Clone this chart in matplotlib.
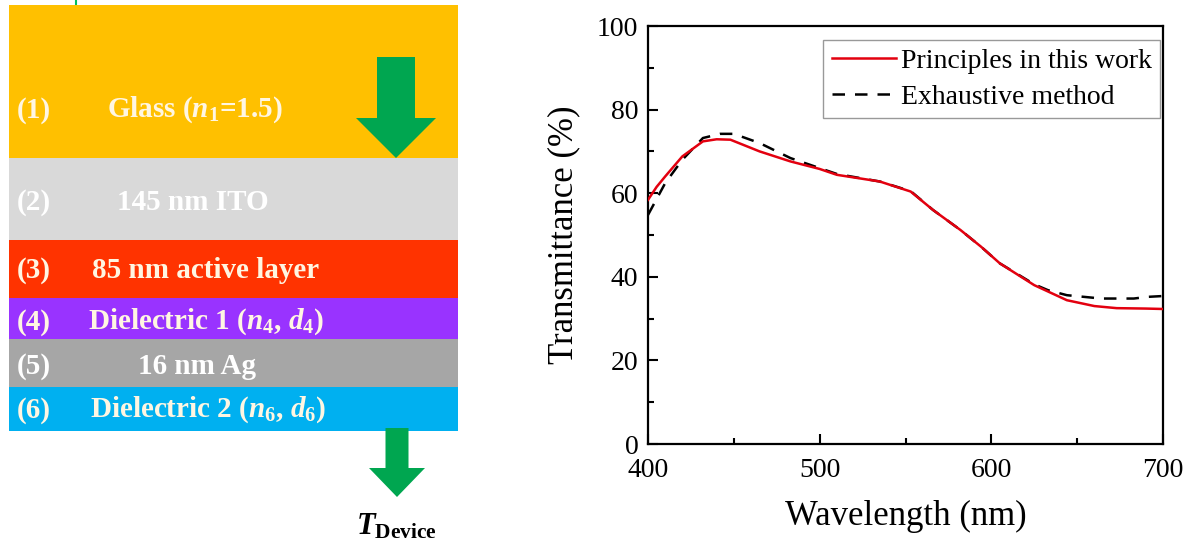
#!/usr/bin/env python3
"""
Device stack sketch (left) + transmittance comparison (right).
"""
import numpy as np
import matplotlib
matplotlib.use('Agg')
import matplotlib.pyplot as plt
from matplotlib.patches import Rectangle, FancyArrow

plt.rcParams['font.family'] = ['Liberation Serif', 'DejaVu Serif']
plt.rcParams['mathtext.fontset'] = 'custom'
plt.rcParams['mathtext.rm'] = 'Liberation Serif:bold'
plt.rcParams['mathtext.it'] = 'Liberation Serif:italic:bold'
plt.rcParams['mathtext.bf'] = 'Liberation Serif:bold'

# --- layer stack (top -> bottom)
layer_ids = ['(1)', '(2)', '(3)', '(4)', '(5)', '(6)']
layer_names = [r'Glass ($n_1$=1.5)', '145 nm ITO', '85 nm active layer',
               r'Dielectric 1 ($n_4$, $d_4$)', '16 nm Ag',
               r'Dielectric 2 ($n_6$, $d_6$)']
layer_colors = ['#FFC000', '#D9D9D9', '#FF3300', '#9933FF', '#A6A6A6', '#00B0F0']
layer_edges = [5, 158, 240, 298, 339, 387, 431]   # pixel rows of boundaries
name_x = [107, 117, 92, 88, 138, 90]
label_y = [110, 202, 270, 322, 366, 410]

# --- transmittance curves
wl_work = [400, 405, 410, 420, 432, 440, 448, 465, 483, 500, 510, 535, 553,
           566, 582, 594, 605, 625, 644, 660, 673, 690, 700]
T_work = [58.4, 61.5, 64.0, 68.8, 72.4, 72.9, 72.8, 70.0, 67.6, 65.8, 64.4,
          62.8, 60.4, 56.0, 51.2, 47.2, 43.2, 38.0, 34.4, 33.0, 32.5, 32.4, 32.3]
wl_exh = [400, 410, 420, 432, 442, 450, 465, 483, 500, 510, 535, 553, 566,
          582, 594, 605, 625, 633, 644, 664, 683, 691, 700]
T_exh = [54.8, 62.4, 68.0, 73.2, 74.2, 74.2, 72.0, 68.4, 66.0, 64.6, 62.8,
         60.5, 56.0, 51.2, 47.2, 43.2, 38.2, 36.8, 35.6, 34.8, 34.8, 35.2, 35.4]

W, H = 1191, 546
fig = plt.figure(figsize=(W / 100, H / 100), dpi=100)

# left panel drawn in pixel coordinates
ax0 = fig.add_axes([0, 0, 1, 1])
ax0.set_xlim(0, W)
ax0.set_ylim(H, 0)
ax0.axis('off')

for i, (lid, name, col) in enumerate(zip(layer_ids, layer_names, layer_colors)):
    top, bot = layer_edges[i], layer_edges[i + 1]
    ax0.add_patch(Rectangle((9, top), 449, bot - top, color=col, lw=0))
    tc = '#FFFFFF' if i in (1, 4) else '#FFF6E2'
    ax0.text(34, label_y[i], lid, color=tc, fontsize=21, fontweight='bold',
             ha='center', va='center')
    ax0.text(name_x[i], label_y[i], name, color=tc, fontsize=21,
             fontweight='bold', ha='left', va='center')

green = '#00A650'
ax0.add_patch(FancyArrow(396, 57, 0, 101, width=38, head_width=80,
                         head_length=40, length_includes_head=True,
                         color=green, lw=0))
ax0.add_patch(FancyArrow(397, 428, 0, 69, width=23, head_width=56,
                         head_length=29, length_includes_head=True,
                         color=green, lw=0))
ax0.plot([76, 76], [0, 4], color='#00C060', lw=1.5)
ax0.text(396, 527, r'$T_{\mathrm{Device}}$', fontsize=22, ha='center',
         va='center', color='black')

# right panel: transmittance
ax = fig.add_axes([648 / W, 1 - 444 / H, (1163 - 648) / W, (444 - 26) / H])
ax.plot(wl_work, T_work, color='#E3000F', lw=1.8, label='Principles in this work',
        zorder=3)
ax.plot(wl_exh, T_exh, color='black', lw=1.8, dashes=(5, 4),
        label='Exhaustive method', zorder=2)
ax.set_xlim(400, 700)
ax.set_ylim(0, 100)
ax.set_xticks([400, 500, 600, 700])
ax.set_xticks([450, 550, 650], minor=True)
ax.set_yticks([0, 20, 40, 60, 80, 100])
ax.set_yticks([10, 30, 50, 70, 90], minor=True)
ax.tick_params(which='both', direction='in', labelsize=20, width=1.5)
ax.tick_params(which='major', length=7)
ax.tick_params(axis='y', which='major', pad=7)
ax.tick_params(axis='x', which='major', pad=10)
ax.tick_params(which='minor', length=4)
for s in ax.spines.values():
    s.set_linewidth(1.6)
ax.set_xlabel('Wavelength (nm)', fontsize=25, labelpad=12)
ax.set_ylabel('Transmittance (%)', fontsize=25, labelpad=12)
leg = ax.legend(loc='upper right', bbox_to_anchor=(0.995, 0.967),
                borderaxespad=0, fontsize=20, fancybox=False, handlelength=2.3,
                handletextpad=0.2, borderpad=0.3, labelspacing=0.4)
leg.get_frame().set_edgecolor('#808080')
leg.get_frame().set_linewidth(1.0)

fig.savefig('out.png', dpi=100)
